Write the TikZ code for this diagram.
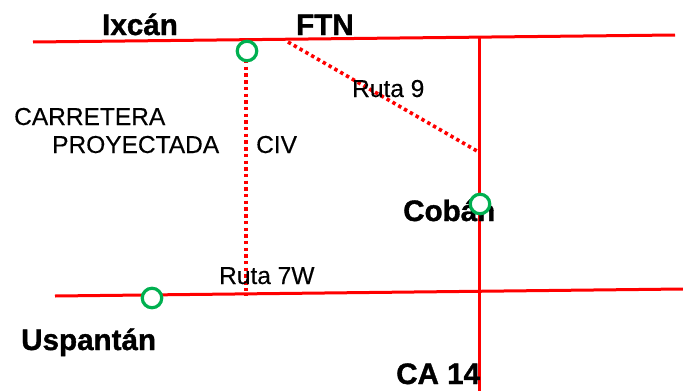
\documentclass[tikz,border=0pt]{standalone}
\usepackage{fontspec}
\setmainfont{Liberation Sans}
\newfontfamily\heavyfont[FakeBold=1.2]{Liberation Sans Bold}
\newfontfamily\lightfont[FakeBold=0.3]{Liberation Sans}
\definecolor{roadred}{RGB}{255,0,0}
\definecolor{towngreen}{RGB}{0,176,80}
\tikzset{
  road/.style={draw=roadred,line width=3pt},
  planned/.style={draw=roadred,line width=3.6pt,dash pattern=on 3.4pt off 3.3pt},
  town/.style={circle,draw=towngreen,fill=white,line width=3.2pt,minimum size=19.5pt,inner sep=0pt},
  biglabel/.style={anchor=base west,inner sep=0pt,font=\fontsize{29.6}{31}\heavyfont},
  smalllabel/.style={anchor=base west,inner sep=0pt,font=\fontsize{24.5}{26}\lightfont},
}
\begin{document}
\begin{tikzpicture}[x=1pt,y=-1pt]
\useasboundingbox (0,0) rectangle (683,391);
% free ends of the roads
\coordinate (topW) at (33,42);
\coordinate (topE) at (675,35);
\coordinate (botW) at (55,296);
\coordinate (botE) at (683,289);
\coordinate (ca14N) at (479,36);
\coordinate (ca14S) at (479,391);
\coordinate (r9A) at (288,42);
\coordinate (r9B) at (477,151);
\coordinate (civS) at (246,295);
\coordinate (civN) at (246,60);
\draw[road] (topW) -- (topE);
\draw[road] (botW) -- (botE);
\draw[road] (ca14N) -- (ca14S);
\draw[planned] (r9A) -- (r9B);
\draw[planned] (civN) -- (civS);
% labels
\node[biglabel] (ixcan) at (102,35) {Ixcán};
\node[biglabel] (ftn) at (296,35) {FTN};
\node[smalllabel] (ruta9) at (352,97) {Ruta 9};
\node[smalllabel] (carr) at (14,125) {CARRETERA};
\node[smalllabel] (proy) at (52,153) {PROYECTADA};
\node[smalllabel] (civ) at (256,153) {CIV};
\node[biglabel] (coban) at (403,221) {Cobán};
\node[smalllabel] (ruta7) at (219,284) {Ruta 7W};
\node[biglabel] (uspa) at (21,350) {Uspantán};
\node[biglabel] (ca14) at (396,384) {CA 14};
% towns
\node[town] (t1) at (247,51) {};
\node[town] (t2) at (152,298) {};
\node[town] (t3) at (480,204) {};
\end{tikzpicture}
\end{document}
